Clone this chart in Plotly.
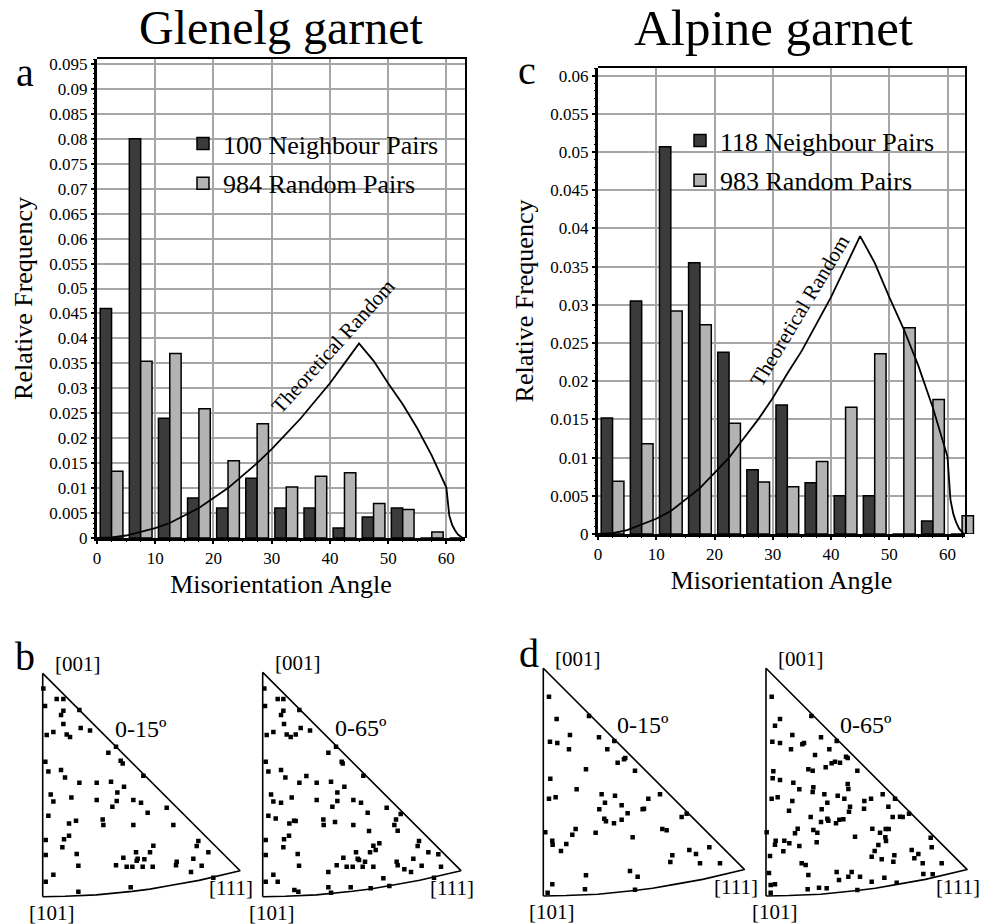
import plotly.graph_objects as go

FONT = "Liberation Serif, 'Times New Roman', Times, serif"
W, H = 981, 924

# ------------------------------------------------------------------ data
bin_centres = [2.5, 7.5, 12.5, 17.5, 22.5, 27.5, 32.5, 37.5, 42.5, 47.5, 52.5, 57.5, 62.5]
glenelg_neighbour = [0.046, 0.080, 0.024, 0.008, 0.006, 0.012, 0.006, 0.006, 0.002, 0.0042, 0.006, 0.0, 0.0]
glenelg_random = [0.0134, 0.0354, 0.0370, 0.0259, 0.0155, 0.0229, 0.0102, 0.0124, 0.0131, 0.0069, 0.0057, 0.0012, 0.0]
alpine_neighbour = [0.0152, 0.0305, 0.0507, 0.0355, 0.0238, 0.0084, 0.0169, 0.0067, 0.0050, 0.0050, 0.0, 0.0017, 0.0]
alpine_random = [0.0069, 0.0118, 0.0292, 0.0274, 0.0145, 0.0068, 0.0062, 0.0095, 0.0166, 0.0236, 0.0270, 0.0176, 0.0024]

theory_angle = [0, 2.5, 5, 7.5, 10, 12.5, 15, 17.5, 20, 22.5, 25, 27.5, 30, 32.5, 35, 37.5, 40,
                42.5, 45, 47.5, 50, 52.5, 55, 57.5, 59, 60, 60.5, 61, 61.5, 62, 62.8, 63.5]
theory_freq = [0, 0.0001, 0.0005, 0.0012, 0.002, 0.003, 0.0045, 0.006, 0.008, 0.010, 0.0125, 0.015,
               0.0178, 0.021, 0.024, 0.0275, 0.031, 0.035, 0.039, 0.0355, 0.031, 0.0268, 0.022,
               0.0165, 0.0128, 0.0101, 0.0045, 0.0026, 0.0015, 0.0007, 0, 0]

x_tick_labels = ["0", "10", "20", "30", "40", "50", "60"]
y_tick_labels_a = ["0", "0.005", "0.01", "0.015", "0.02", "0.025", "0.03", "0.035", "0.04", "0.045",
                   "0.05", "0.055", "0.06", "0.065", "0.07", "0.075", "0.08", "0.085", "0.09", "0.095"]
y_tick_labels_c = ["0", "0.005", "0.01", "0.015", "0.02", "0.025", "0.03", "0.035", "0.04", "0.045",
                   "0.05", "0.055", "0.06"]

# inverse pole figure points (u: right of [001]-[101] edge, v: up from [101]; in units of edge/EDGE)
glen_015_edge = 670
glen_015 = [(2,625),(42,593),(62,593),(7,572),(62,558),(55,545),(110,560),(62,518),(12,485),(32,494),
            (72,487),(82,479),(114,506),(142,499),(220,450),(197,432),(234,408),(240,400),(302,363),
            (8,405),(17,376),(55,380),(67,358),(110,342),(162,342),(205,345),(244,330),(224,313),
            (24,307),(32,286),(86,298),(162,290),(222,287),(209,270),(272,290),(295,282),(315,252),
            (372,267),(17,243),(79,220),(100,228),(180,232),(182,215),(272,215),(392,215),(9,170),
            (64,172),(79,183),(59,148),(467,167),(462,152),(332,153),(280,133),(322,133),(242,117),
            (285,114),(282,108),(305,112),(102,128),(497,133),(452,114),(402,105),(400,94),(9,125),
            (107,93),(220,94),(252,90),(269,90),(300,90),(330,90),(477,93),(445,74),(32,66),(9,45),
            (512,57),(264,28),(107,15)]
glen_065_edge = 673
glen_065 = [(5,625),(45,593),(62,593),(7,572),(62,558),(55,545),(110,560),(64,518),(12,485),(32,494),
            (72,487),(84,479),(99,487),(114,506),(142,499),(220,450),(197,432),(237,405),(240,400),
            (302,363),(9,405),(17,376),(55,380),(68,358),(110,342),(131,362),(162,342),(205,345),
            (245,330),(224,313),(25,307),(32,286),(55,282),(87,298),(162,290),(224,287),(209,270),
            (272,290),(295,282),(315,252),(372,267),(414,248),(400,232),(395,215),(405,198),(17,243),
            (39,235),(80,220),(94,228),(99,227),(182,232),(183,215),(217,224),(272,215),(319,197),
            (9,170),(64,172),(79,183),(62,148),(469,167),(465,152),(332,153),(350,160),(280,133),
            (322,133),(339,140),(242,117),(285,114),(289,110),(307,105),(105,128),(497,133),(452,114),
            (402,105),(405,94),(9,125),(109,93),(222,94),(252,90),(270,90),(300,90),(332,90),(477,93),
            (445,74),(425,82),(535,90),(527,127),(32,66),(45,45),(9,45),(197,74),(362,55),(514,57),
            (264,28),(197,28),(95,20),(107,15),(205,12),(324,25),(380,32)]
alp_015_edge = 683
alp_015 = [(17,598),(40,531),(137,540),(20,463),(42,459),(80,483),(167,476),(77,440),(213,465),
           (192,440),(246,414),(242,410),(223,400),(128,380),(275,376),(21,352),(100,320),(350,305),
           (17,292),(37,296),(175,305),(215,301),(185,280),(315,292),(168,260),(235,272),(302,262),
           (298,260),(253,248),(183,232),(188,224),(212,218),(235,229),(415,237),(430,247),(6,191),
           (87,184),(97,201),(157,190),(357,201),(370,197),(268,176),(27,166),(28,154),(69,156),
           (53,135),(498,146),(438,138),(458,126),(387,122),(381,102),(470,98),(530,98),(128,62),
           (260,75),(283,58),(27,35),(13,10),(125,20),(275,19)]
alp_065_edge = 683
alp_065 = [(17,598),(42,531),(27,511),(136,540),(79,483),(19,463),(42,459),(109,455),(114,459),
           (165,476),(75,440),(212,465),(190,440),(147,423),(245,414),(240,418),(222,400),(207,403),
           (197,398),(179,386),(127,380),(140,376),(274,376),(22,374),(20,353),(42,348),(82,340),
           (100,320),(245,336),(247,321),(142,326),(140,312),(175,305),(215,301),(235,292),(17,292),
           (35,296),(79,285),(184,280),(295,285),(315,292),(350,305),(252,268),(167,260),(294,262),
           (69,256),(249,253),(134,237),(184,232),(187,226),(165,222),(220,229),(232,230),(210,218),
           (367,268),(387,292),(380,237),(402,238),(410,237),(429,247),(95,202),(87,188),(142,198),
           (154,190),(319,202),(267,178),(359,201),(368,201),(342,190),(358,176),(360,165),(494,175),
           (2,191),(29,166),(27,154),(55,166),(70,158),(52,134),(100,150),(152,161),(337,153),
           (326,135),(317,118),(347,110),(385,122),(382,103),(437,138),(445,113),(457,126),(497,146),
           (470,98),(527,98),(12,120),(107,98),(119,93),(127,63),(212,72),(219,48),(247,58),(257,72),
           (282,58),(317,43),(355,55),(392,40),(472,66),(500,65),(9,69),(14,33),(27,35),(14,10),
           (125,20),(159,25),(182,23),(274,18)]

# triangle outline [101] -> [001] -> [111] -> arc -> [101]
tri_u = [0, 0, 0.884, 0.76, 0.70, 0.57, 0.48, 0.40, 0.24, 0.10, 0]
tri_v = [0, 1, 0.116, 0.087, 0.073, 0.050, 0.034, 0.024, 0.008, 0.002, 0]

DARK = "#3b3b3b"
LIGHT = "#b3b3b3"
GRID = "#a6a6a6"


def xdom(a, b):
    return [a / W, b / W]


def ydom(top, bottom):
    return [1 - bottom / H, 1 - top / H]


fig = go.Figure()
layout = dict(
    width=W, height=H, margin=dict(l=0, r=0, t=0, b=0), template="none",
    paper_bgcolor="white", plot_bgcolor="rgba(0,0,0,0)",
    barmode="group", bargap=0.22, bargroupgap=0.0, showlegend=True,
    font=dict(family=FONT, color="black"),
)

# ------------------------------------------------------------------ histogram panels
A = dict(L=97, R=465, T=59, B=538, xmax=63.2, ymax=0.096)
C = dict(L=598, R=965, T=68, B=534, xmax=63.0, ymax=0.061)


def main_axes(P, ylabels):
    xa = dict(domain=xdom(P["L"], P["R"]), range=[0, P["xmax"]],
              tickmode="array", tickvals=[float(t) for t in x_tick_labels], ticktext=x_tick_labels,
              ticks="outside", ticklen=5, tickwidth=1.5, tickcolor="black",
              showgrid=True, gridcolor=GRID, gridwidth=1.6, zeroline=False, showline=False,
              tickfont=dict(size=17, family=FONT, color="black"),
              minor=dict(dtick=2.5, tick0=0, ticks="outside", ticklen=3, tickwidth=1, tickcolor="black", showgrid=False),
              title=dict(text="Misorientation Angle", font=dict(size=26, family=FONT, color="black"), standoff=7))
    ya = dict(domain=ydom(P["T"], P["B"]), range=[0, P["ymax"]],
              tickmode="array", tickvals=[float(t) for t in ylabels], ticktext=ylabels,
              ticks="outside", ticklen=5, tickwidth=1.5, tickcolor="black",
              showgrid=True, gridcolor=GRID, gridwidth=1.6, zeroline=False, showline=False,
              tickfont=dict(size=17, family=FONT, color="black"),
              minor=dict(dtick=0.001, tick0=0, ticks="outside", ticklen=3, tickwidth=1, tickcolor="black", showgrid=False),
              title=dict(text="Relative Frequency", font=dict(size=26, family=FONT, color="black"), standoff=9))
    return xa, ya


def line_axes(P, width, xside, yside):
    common = dict(showgrid=False, zeroline=False, ticks="", showticklabels=False,
                  showline=True, linecolor="black", linewidth=width)
    xa = dict(domain=xdom(P["L"], P["R"]), range=[0, P["xmax"]], side=xside, **common)
    ya = dict(domain=ydom(P["T"], P["B"]), range=[0, P["ymax"]], side=yside, **common)
    return xa, ya


def dummy(xa, ya):
    fig.add_trace(go.Scatter(x=[None], y=[None], xaxis=xa, yaxis=ya, showlegend=False, hoverinfo="skip"))


# panel a : x/y main, x2/y2 thick lines, x3/y3 thin frame
xa, ya = main_axes(A, y_tick_labels_a)
layout["xaxis"] = dict(xa, anchor="y")
layout["yaxis"] = dict(ya, anchor="x")
xa, ya = line_axes(A, 3, "bottom", "left")
layout["xaxis2"] = dict(xa, anchor="y2")
layout["yaxis2"] = dict(ya, anchor="x2")
xa, ya = line_axes(A, 1.5, "top", "right")
layout["xaxis3"] = dict(xa, anchor="y3")
layout["yaxis3"] = dict(ya, anchor="x3")

fig.add_trace(go.Bar(x=bin_centres, y=glenelg_neighbour, name="100 Neighbour Pairs", legend="legend",
                     legendgroup="a1", marker=dict(color=DARK, line=dict(color="black", width=1.5)),
                     xaxis="x", yaxis="y"))
fig.add_trace(go.Bar(x=bin_centres, y=glenelg_random, name="984 Random Pairs", legend="legend",
                     legendgroup="a2", marker=dict(color=LIGHT, line=dict(color="black", width=1.5)),
                     xaxis="x", yaxis="y"))
fig.add_trace(go.Scatter(x=theory_angle, y=theory_freq, mode="lines", line=dict(color="black", width=1.8),
                         showlegend=False, xaxis="x", yaxis="y", hoverinfo="skip"))
dummy("x2", "y2")
dummy("x3", "y3")

# panel c : x4/y4 main, x5/y5 bars (wider area), x6/y6 thick lines, x7/y7 thin frame
xa, ya = main_axes(C, y_tick_labels_c)
layout["xaxis4"] = dict(xa, anchor="y4")
layout["yaxis4"] = dict(ya, anchor="x4")
wide_right = W
layout["xaxis5"] = dict(domain=xdom(C["L"], wide_right),
                        range=[0, C["xmax"] * (wide_right - C["L"]) / (C["R"] - C["L"])],
                        visible=False, anchor="y5")
layout["yaxis5"] = dict(domain=ydom(C["T"], C["B"]), range=[0, C["ymax"]], visible=False, anchor="x5")
xa, ya = line_axes(C, 3, "bottom", "left")
layout["xaxis6"] = dict(xa, anchor="y6")
layout["yaxis6"] = dict(ya, anchor="x6")
xa, ya = line_axes(C, 1.5, "top", "right")
layout["xaxis7"] = dict(xa, anchor="y7")
layout["yaxis7"] = dict(ya, anchor="x7")

dummy("x4", "y4")
fig.add_trace(go.Bar(x=bin_centres, y=alpine_neighbour, name="118 Neighbour Pairs", legend="legend2",
                     legendgroup="c1", marker=dict(color=DARK, line=dict(color="black", width=1.5)),
                     xaxis="x5", yaxis="y5"))
fig.add_trace(go.Bar(x=bin_centres, y=alpine_random, name="983 Random Pairs", legend="legend2",
                     legendgroup="c2", marker=dict(color=LIGHT, line=dict(color="black", width=1.5)),
                     xaxis="x5", yaxis="y5"))
fig.add_trace(go.Scatter(x=theory_angle, y=theory_freq, mode="lines", line=dict(color="black", width=1.8),
                         showlegend=False, xaxis="x5", yaxis="y5", hoverinfo="skip"))
dummy("x6", "y6")
dummy("x7", "y7")

legend_common = dict(xanchor="left", yanchor="top", bgcolor="rgba(0,0,0,0)", borderwidth=0,
                     font=dict(size=26, family=FONT, color="black"), tracegroupgap=3,
                     traceorder="grouped", itemclick=False, itemdoubleclick=False)
layout["legend"] = dict(legend_common, x=183 / W, y=1 - 120 / H)
layout["legend2"] = dict(legend_common, x=680 / W, y=1 - 117 / H)

# ------------------------------------------------------------------ inverse pole figures
triangles = [
    # (axis number, [101] corner px x, px y, edge px, points, reading edge, range label)
    (8, 42.7, 896.7, 223.3, glen_015, glen_015_edge, "0-15º"),
    (9, 262.7, 896.7, 224.3, glen_065, glen_065_edge, "0-65º"),
    (10, 543.3, 896.0, 227.7, alp_015, alp_015_edge, "0-15º"),
    (11, 766.0, 896.0, 227.7, alp_065, alp_065_edge, "0-65º"),
]
U0, U1, V0, V1 = -0.06, 0.93, -0.06, 1.06
annotations = []
for n, cx, cy, e, pts, edge, lab in triangles:
    xs, ys = "x%d" % n, "y%d" % n
    layout["xaxis%d" % n] = dict(domain=xdom(cx + U0 * e, cx + U1 * e), range=[U0, U1],
                                 visible=False, anchor=ys)
    layout["yaxis%d" % n] = dict(domain=ydom(cy - V1 * e, cy - V0 * e), range=[V0, V1],
                                 visible=False, anchor=xs)
    fig.add_trace(go.Scatter(x=tri_u, y=tri_v, mode="lines", line=dict(color="black", width=1.6),
                             showlegend=False, xaxis=xs, yaxis=ys, hoverinfo="skip"))
    fig.add_trace(go.Scatter(x=[p[0] / edge for p in pts], y=[p[1] / edge for p in pts], mode="markers",
                             marker=dict(symbol="square", size=4.5, color="black", line=dict(width=0)),
                             showlegend=False, xaxis=xs, yaxis=ys, hoverinfo="skip"))
    tf = dict(size=21, family=FONT, color="black")
    annotations += [
        dict(text="[001]", x=0, y=1, xref=xs, yref=ys, xanchor="left", yanchor="middle",
             xshift=10, yshift=9, showarrow=False, font=tf),
        dict(text="[101]", x=0, y=0, xref=xs, yref=ys, xanchor="center", yanchor="middle",
             xshift=9, yshift=-16, showarrow=False, font=tf),
        dict(text="[111]", x=0.884, y=0.116, xref=xs, yref=ys, xanchor="center", yanchor="middle",
             xshift=-9, yshift=-17, showarrow=False, font=tf),
        dict(text=lab, x=0.44, y=0.75, xref=xs, yref=ys, xanchor="center", yanchor="middle",
             showarrow=False, font=dict(size=24, family=FONT, color="black")),
    ]

# ------------------------------------------------------------------ titles, panel letters, curve labels
def paper_text(text, px, py, size):
    return dict(text=text, x=px / W, y=1 - py / H, xref="paper", yref="paper", xanchor="center",
                yanchor="middle", showarrow=False, font=dict(size=size, family=FONT, color="black"))


annotations += [
    paper_text("Glenelg garnet", 281, 28, 48),
    paper_text("Alpine garnet", 773, 28, 51),
    paper_text("a", 25, 73, 40),
    paper_text("c", 527, 70, 40),
    paper_text("b", 25, 656, 40),
    paper_text("d", 529, 653, 40),
    dict(text="Theoretical Random", x=40.6, y=0.0385, xref="x", yref="y", textangle=-48, showarrow=False,
         font=dict(size=21, family=FONT, color="black")),
    dict(text="Theoretical Random", x=34.6, y=0.0292, xref="x4", yref="y4", textangle=-59, showarrow=False,
         font=dict(size=21, family=FONT, color="black")),
]
layout["annotations"] = annotations

fig.update_layout(**layout)
fig.write_html("out.html")
